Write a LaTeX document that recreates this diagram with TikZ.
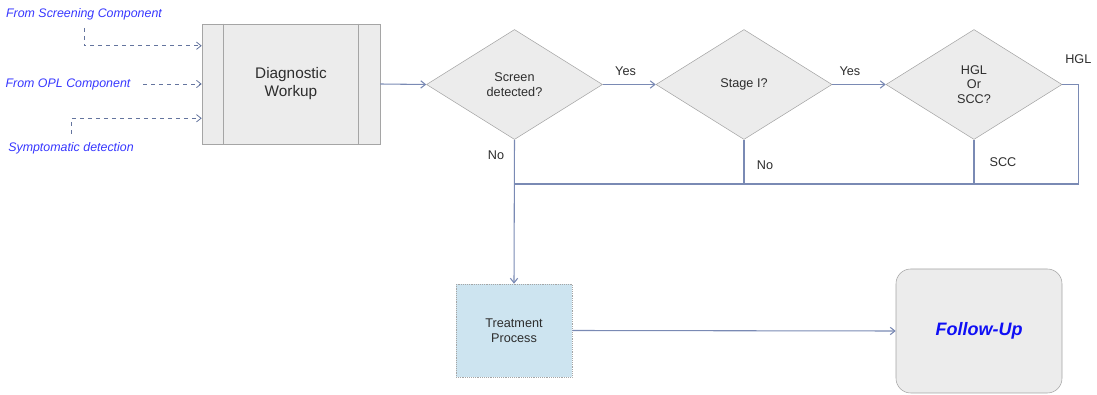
\documentclass[tikz,border=0pt]{standalone}
\usepackage{fontspec}
\setmainfont{Liberation Sans}
\usetikzlibrary{arrows.meta,positioning,calc,shapes.geometric}
\definecolor{ink}{RGB}{45,45,45}
\definecolor{boxfill}{RGB}{236,236,236}
\definecolor{boxedge}{RGB}{165,165,165}
\definecolor{wire}{RGB}{122,138,180}
\definecolor{feedc}{RGB}{100,116,158}
\definecolor{src}{RGB}{55,55,255}
\definecolor{treat}{RGB}{205,228,240}
\definecolor{fuText}{RGB}{15,15,245}
\tikzset{
  wbox/.style={draw=boxedge,fill=boxfill,minimum width=133.5pt,minimum height=90pt,
    inner sep=0pt,align=center,text=ink,font=\fontsize{11.5pt}{13.5pt}\selectfont},
  decide/.style={diamond,aspect=1.6,draw=boxedge,fill=boxfill,minimum width=132pt,
    minimum height=82.5pt,inner sep=0pt,align=center,text=ink,
    font=\fontsize{9.5pt}{11pt}\selectfont},
  proc/.style={draw=boxedge,densely dotted,fill=treat,minimum width=87pt,minimum height=69.75pt,
    inner sep=0pt,align=center,text=ink,font=\fontsize{9.5pt}{11pt}\selectfont},
  fin/.style={draw=boxedge,fill=boxfill,rounded corners=11pt,minimum width=124.5pt,
    minimum height=93pt,inner sep=0pt,text=fuText,
    font=\fontsize{13.5pt}{15pt}\selectfont\bfseries\itshape},
  srcl/.style={text=src,font=\fontsize{9.3pt}{11pt}\selectfont\itshape},
  note/.style={text=ink,font=\fontsize{9.5pt}{11pt}\selectfont},
  flow/.style={-{Straight Barb[length=3.5pt,width=5.5pt]},wire,line width=0.8pt},
  link/.style={wire,line width=0.8pt},
  feed/.style={-{Straight Barb[length=3.5pt,width=5.5pt]},feedc,dashed,line width=0.6pt},
}

\begin{document}
\begin{tikzpicture}[x=0.75pt,y=-0.75pt]
\useasboundingbox (0,0) rectangle (1097,395);

% sources
\node[srcl] (scr) at (84,14) {From Screening Component};
\node[srcl] (opl) at (68,84) {From OPL Component};
\node[srcl] (sym) at (71,148) {Symptomatic detection};

% workup box with side bars
\node[wbox] (dw) at (291,84) {Diagnostic\\Workup};
\draw[boxedge,line width=0.6pt] ($(dw.north west)+(22,0)$) -- ($(dw.south west)+(22,0)$);
\draw[boxedge,line width=0.6pt] ($(dw.north east)+(-22,0)$) -- ($(dw.south east)+(-22,0)$);

% decisions
\node[decide] (d1) at (514.5,84.5) {Screen\\detected?};
\node[decide] (d2) at (744,84.5) {Stage I?};
\node[decide] (d3) at (974,84.5) {HGL\\Or\\SCC?};

% treatment and follow-up
\node[proc] (tp) at (514,330.5) {Treatment\\Process};
\node[fin] (fu) at (979,331) {Follow-Up};
\coordinate (bus) at (514,184);

% inputs
\draw[feed] ([yshift=-2.5pt]scr.south) |- ($(dw.north west)+(0,22)$);
\draw[feed] ([xshift=6pt]opl.east) -- (dw.west);
\draw[feed] ([yshift=3pt]sym.north) |- ($(dw.south west)+(0,-26)$);

% main flow
\draw[flow] (dw.east) -- (d1.west);
\draw[flow] (d1.east) -- node[note,pos=0.43,above=3pt] {Yes} (d2.west);
\draw[flow] (d2.east) -- node[note,pos=0.33,above=3pt] {Yes} (d3.west);
\draw[link] (d3.east) -- ++(16,0) node[note,above=12pt] {HGL} |- (bus);
\draw[link] (d2.south) -- node[note,pos=0.58,right=6pt] {No} (d2.south |- bus);
\draw[link] (d3.south) -- node[note,pos=0.51,right=8pt] {SCC} (d3.south |- bus);
\draw[flow] (d1.south) -- node[note,pos=0.11,left=4pt] {No} (tp.north);
\draw[flow] (tp.east) -- (fu.west);
\end{tikzpicture}
\end{document}
